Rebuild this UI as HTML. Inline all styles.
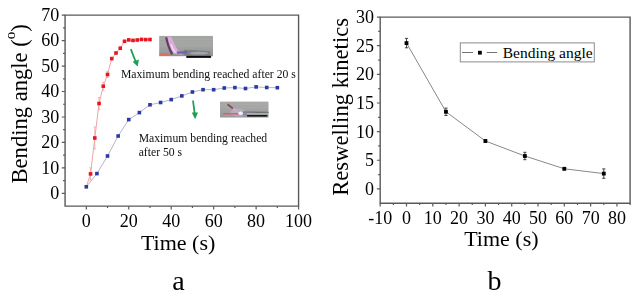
<!DOCTYPE html>
<html><head><meta charset="utf-8"><style>
html,body{margin:0;padding:0;background:#fff;}
body{width:639px;height:298px;overflow:hidden;}
svg{display:block;filter:blur(0.3px);}
text{font-family:"Liberation Serif",serif;fill:#000;}
.tl{font-size:18px;}
.at{font-size:22px;}
.pl{font-size:28px;}
.an{font-size:11.7px;fill:#111;}
.lg{font-size:15.5px;}
</style></head><body>
<svg width="639" height="298" viewBox="0 0 639 298">
<path d="M65.07 206.14V15.11H298.57V206.14Z" fill="none" stroke="#5a5a5a" stroke-width="1.4"/>
<path d="M65.07 193.40h-3.3 M65.07 167.93h-3.3 M65.07 142.46h-3.3 M65.07 116.99h-3.3 M65.07 91.52h-3.3 M65.07 66.05h-3.3 M65.07 40.58h-3.3 M65.07 15.11h-3.3 M65.07 180.66h-2 M65.07 155.19h-2 M65.07 129.72h-2 M65.07 104.25h-2 M65.07 78.78h-2 M65.07 53.31h-2 M65.07 27.84h-2 M86.30 206.14v3.4 M128.75 206.14v3.4 M171.21 206.14v3.4 M213.66 206.14v3.4 M256.12 206.14v3.4 M298.57 206.14v3.4 M107.53 206.14v1.8 M149.98 206.14v1.8 M192.44 206.14v1.8 M234.89 206.14v1.8 M277.34 206.14v1.8" stroke="#5a5a5a" stroke-width="1.2" fill="none"/>
<text x="59.2" y="199.30" class="tl" text-anchor="end">0</text>
<text x="59.2" y="173.83" class="tl" text-anchor="end">10</text>
<text x="59.2" y="148.36" class="tl" text-anchor="end">20</text>
<text x="59.2" y="122.89" class="tl" text-anchor="end">30</text>
<text x="59.2" y="97.42" class="tl" text-anchor="end">40</text>
<text x="59.2" y="71.95" class="tl" text-anchor="end">50</text>
<text x="59.2" y="46.48" class="tl" text-anchor="end">60</text>
<text x="59.2" y="21.01" class="tl" text-anchor="end">70</text>
<text x="86.30" y="226.9" class="tl" text-anchor="middle">0</text>
<text x="128.75" y="226.9" class="tl" text-anchor="middle">20</text>
<text x="171.21" y="226.9" class="tl" text-anchor="middle">40</text>
<text x="213.66" y="226.9" class="tl" text-anchor="middle">60</text>
<text x="256.12" y="226.9" class="tl" text-anchor="middle">80</text>
<text x="298.57" y="226.9" class="tl" text-anchor="middle">100</text>
<text x="178.1" y="249.6" class="at" text-anchor="middle">Time (s)</text>
<text x="178.5" y="290.3" class="pl" text-anchor="middle">a</text>
<text transform="translate(26.6 183.5) rotate(-90)" class="at" style="font-size:22.6px">Bending angle (<tspan style="font-size:15px" dy="-11.5">o</tspan><tspan dy="11.5">)</tspan></text>
<polyline points="86.30,186.80 90.55,173.90 94.79,138.00 99.04,103.50 103.28,86.20 107.53,74.50 111.77,58.60 116.02,53.00 120.26,48.20 124.51,41.30 128.75,39.90 133.00,40.40 137.24,40.00 141.49,39.40 145.74,39.60 149.98,39.50" fill="none" stroke="#eea4ac" stroke-width="1"/>
<polyline points="86.30,186.80 96.91,173.60 107.53,156.00 118.14,136.00 128.75,119.60 139.37,112.60 149.98,104.80 160.59,102.50 171.21,99.60 181.82,95.90 192.44,92.00 203.05,89.70 213.66,89.70 224.28,88.00 234.89,87.60 245.50,88.50 256.12,86.90 266.73,87.50 277.34,87.70" fill="none" stroke="#b2b3d0" stroke-width="1"/>
<path d="M90.55 167.90V179.90M89.35 167.90h2.4M89.35 179.90h2.4M94.79 127.00V149.00M93.59 127.00h2.4M93.59 149.00h2.4M99.04 97.50V109.50M97.84 97.50h2.4M97.84 109.50h2.4M103.28 82.20V90.20M102.08 82.20h2.4M102.08 90.20h2.4M107.53 71.50V77.50M106.33 71.50h2.4M106.33 77.50h2.4" stroke="#f4a0a6" stroke-width="0.8" fill="none"/>
<rect x="84.50" y="185.00" width="3.6" height="3.6" fill="#2b3a9c"/>
<rect x="95.11" y="171.80" width="3.6" height="3.6" fill="#2b3a9c"/>
<rect x="105.73" y="154.20" width="3.6" height="3.6" fill="#2b3a9c"/>
<rect x="116.34" y="134.20" width="3.6" height="3.6" fill="#2b3a9c"/>
<rect x="126.95" y="117.80" width="3.6" height="3.6" fill="#2b3a9c"/>
<rect x="137.57" y="110.80" width="3.6" height="3.6" fill="#2b3a9c"/>
<rect x="148.18" y="103.00" width="3.6" height="3.6" fill="#2b3a9c"/>
<rect x="158.79" y="100.70" width="3.6" height="3.6" fill="#2b3a9c"/>
<rect x="169.41" y="97.80" width="3.6" height="3.6" fill="#2b3a9c"/>
<rect x="180.02" y="94.10" width="3.6" height="3.6" fill="#2b3a9c"/>
<rect x="190.63" y="90.20" width="3.6" height="3.6" fill="#2b3a9c"/>
<rect x="201.25" y="87.90" width="3.6" height="3.6" fill="#2b3a9c"/>
<rect x="211.86" y="87.90" width="3.6" height="3.6" fill="#2b3a9c"/>
<rect x="222.48" y="86.20" width="3.6" height="3.6" fill="#2b3a9c"/>
<rect x="233.09" y="85.80" width="3.6" height="3.6" fill="#2b3a9c"/>
<rect x="243.70" y="86.70" width="3.6" height="3.6" fill="#2b3a9c"/>
<rect x="254.32" y="85.10" width="3.6" height="3.6" fill="#2b3a9c"/>
<rect x="264.93" y="85.70" width="3.6" height="3.6" fill="#2b3a9c"/>
<rect x="275.54" y="85.90" width="3.6" height="3.6" fill="#2b3a9c"/>
<rect x="88.75" y="172.10" width="3.6" height="3.6" fill="#e8141f"/>
<rect x="92.99" y="136.20" width="3.6" height="3.6" fill="#e8141f"/>
<rect x="97.24" y="101.70" width="3.6" height="3.6" fill="#e8141f"/>
<rect x="101.48" y="84.40" width="3.6" height="3.6" fill="#e8141f"/>
<rect x="105.73" y="72.70" width="3.6" height="3.6" fill="#e8141f"/>
<rect x="109.97" y="56.80" width="3.6" height="3.6" fill="#e8141f"/>
<rect x="114.22" y="51.20" width="3.6" height="3.6" fill="#e8141f"/>
<rect x="118.46" y="46.40" width="3.6" height="3.6" fill="#e8141f"/>
<rect x="122.71" y="39.50" width="3.6" height="3.6" fill="#e8141f"/>
<rect x="126.95" y="38.10" width="3.6" height="3.6" fill="#e8141f"/>
<rect x="131.20" y="38.60" width="3.6" height="3.6" fill="#e8141f"/>
<rect x="135.44" y="38.20" width="3.6" height="3.6" fill="#e8141f"/>
<rect x="139.69" y="37.60" width="3.6" height="3.6" fill="#e8141f"/>
<rect x="143.94" y="37.80" width="3.6" height="3.6" fill="#e8141f"/>
<rect x="148.18" y="37.70" width="3.6" height="3.6" fill="#e8141f"/>
<text x="120.9" y="78.0" class="an">Maximum bending reached after 20 s</text>
<text x="138.7" y="141.9" class="an">Maximum bending reached</text>
<text x="138.7" y="156.0" class="an">after 50 s</text>
<path d="M130.8 49.2L135.6 61.5" stroke="#1e9e55" stroke-width="1.8"/><path d="M132.6 61.8L138.9 59.6L137.7 66.6Z" fill="#1e9e55"/>
<path d="M193.0 100.5L194.6 113.0" stroke="#1e9e55" stroke-width="1.8"/><path d="M191.8 112.4L198.0 112.4L195.1 119.2Z" fill="#1e9e55"/>
<defs>
<filter id="bl" x="-10%" y="-30%" width="120%" height="160%"><feGaussianBlur stdDeviation="0.55"/></filter>
<filter id="bl2" x="-20%" y="-50%" width="140%" height="200%"><feGaussianBlur stdDeviation="0.8"/></filter>
<linearGradient id="g1" x1="0" y1="0" x2="0" y2="1">
<stop offset="0" stop-color="#a4a6a3"/><stop offset="0.5" stop-color="#a2a4a1"/><stop offset="0.68" stop-color="#9c9e9e"/><stop offset="1" stop-color="#8f9196"/></linearGradient>
<linearGradient id="g2" x1="0" y1="0" x2="0" y2="1">
<stop offset="0" stop-color="#a9aaa8"/><stop offset="0.6" stop-color="#a0a1a0"/><stop offset="1" stop-color="#96979a"/></linearGradient>
</defs>
<g filter="url(#bl)">
<rect x="159.2" y="35.9" width="53.8" height="20.3" fill="url(#g1)"/>
<path d="M159.2 39.5H213M159.2 42.8H213M159.2 45.8H213" stroke="#b0b2af" stroke-width="0.7" opacity="0.6"/>
<path d="M184 49.8C192 50.2 200 50.6 210 51.0L210 55.4L184 55.4Z" fill="#7e8189"/>
<ellipse cx="199" cy="53.2" rx="9.5" ry="1.4" fill="#a3a5a8"/>
<path d="M159.2 50.2H167V52H159.2Z" fill="#8fb0a8" opacity="0.35"/>
<path d="M159.6 53.7H169V55.6H159.6Z" fill="#d4735a"/>
<path d="M167.2 36.8C168.5 43 170.5 48.5 173.5 53.8L182 54.6L182 51.2L178.2 50.6C175.5 47 173.5 42 171.2 36.6Z" fill="#d9acd9"/>
<path d="M166.2 37.4C167.4 43.5 169.4 49.5 172.2 54.4" stroke="#6a3868" stroke-width="2.2" fill="none"/>
<path d="M171 44C172 48 173.5 50.5 175.5 52.5" stroke="#f1dcf1" stroke-width="1.5" fill="none"/>
<path d="M177 52.6C180 52.4 183 52.2 187 52.2" stroke="#7a5bb2" stroke-width="2.4" fill="none"/>
<rect x="186.3" y="55.8" width="24.8" height="2.1" fill="#111"/>
</g>
<g filter="url(#bl)">
<rect x="220" y="101.6" width="48.5" height="15.9" fill="url(#g2)"/>
<path d="M220 104.5H268.5M220 107.5H268.5" stroke="#b0b1b0" stroke-width="0.7" opacity="0.5"/>
<ellipse cx="238" cy="112.5" rx="8" ry="4" fill="#c5b8d4" opacity="0.55"/>
<path d="M242.8 112.1C250 112.0 258 112.0 268.5 112.4" stroke="#6e7478" stroke-width="1.1"/>
<path d="M244 113.6H268.5" stroke="#b4b6b4" stroke-width="1.2" opacity="0.7"/>
<path d="M227.6 104.2L233 108.6" stroke="#8c4452" stroke-width="1.8"/>
<path d="M233 108.6L238.6 112.8" stroke="#d8a8c8" stroke-width="1.6"/>
<path d="M223.3 113.8H238.6" stroke="#e05a72" stroke-width="1.4"/>
<path d="M223.3 115.4H237" stroke="#8fb8b0" stroke-width="0.8" opacity="0.7"/>
<ellipse cx="240.6" cy="113.2" rx="2.2" ry="1.8" fill="#f6eefa"/>
<path d="M243 114.2H247" stroke="#8670a8" stroke-width="2" opacity="0.7"/>
<rect x="247.1" y="115.0" width="20.2" height="1.6" fill="#141414"/>
</g>
<path d="M380.19 203.22V17.09H630.09V203.22Z" fill="none" stroke="#5a5a5a" stroke-width="1.4"/>
<path d="M380.19 188.90h-3.3 M380.19 160.27h-3.3 M380.19 131.63h-3.3 M380.19 103.00h-3.3 M380.19 74.36h-3.3 M380.19 45.72h-3.3 M380.19 17.09h-3.3 M380.19 174.58h-2 M380.19 145.95h-2 M380.19 117.31h-2 M380.19 88.68h-2 M380.19 60.04h-2 M380.19 31.41h-2 M380.19 203.22v3.2 M406.50 203.22v3.2 M432.81 203.22v3.2 M459.11 203.22v3.2 M485.42 203.22v3.2 M511.72 203.22v3.2 M538.02 203.22v3.2 M564.33 203.22v3.2 M590.63 203.22v3.2 M616.94 203.22v3.2 M393.35 203.22v1.8 M419.65 203.22v1.8 M445.96 203.22v1.8 M472.26 203.22v1.8 M498.57 203.22v1.8 M524.87 203.22v1.8 M551.18 203.22v1.8 M577.48 203.22v1.8 M603.79 203.22v1.8 M630.09 203.22v1.8" stroke="#5a5a5a" stroke-width="1.2" fill="none"/>
<text x="374.1" y="194.80" class="tl" text-anchor="end">0</text>
<text x="374.1" y="166.17" class="tl" text-anchor="end">5</text>
<text x="374.1" y="137.53" class="tl" text-anchor="end">10</text>
<text x="374.1" y="108.90" class="tl" text-anchor="end">15</text>
<text x="374.1" y="80.26" class="tl" text-anchor="end">20</text>
<text x="374.1" y="51.62" class="tl" text-anchor="end">25</text>
<text x="374.1" y="22.99" class="tl" text-anchor="end">30</text>
<text x="380.19" y="223.6" class="tl" text-anchor="middle">-10</text>
<text x="406.50" y="223.6" class="tl" text-anchor="middle">0</text>
<text x="432.81" y="223.6" class="tl" text-anchor="middle">10</text>
<text x="459.11" y="223.6" class="tl" text-anchor="middle">20</text>
<text x="485.42" y="223.6" class="tl" text-anchor="middle">30</text>
<text x="511.72" y="223.6" class="tl" text-anchor="middle">40</text>
<text x="538.02" y="223.6" class="tl" text-anchor="middle">50</text>
<text x="564.33" y="223.6" class="tl" text-anchor="middle">60</text>
<text x="590.63" y="223.6" class="tl" text-anchor="middle">70</text>
<text x="616.94" y="223.6" class="tl" text-anchor="middle">80</text>
<text x="501.4" y="245.7" class="at" text-anchor="middle">Time (s)</text>
<text x="494.4" y="290.3" class="pl" text-anchor="middle">b</text>
<text transform="translate(347.6 195.8) rotate(-90)" class="at" style="font-size:22.63px">Reswelling kinetics</text>
<polyline points="406.50,43.10 445.96,111.80 485.42,141.00 524.87,156.00 564.33,168.80 603.79,173.60" fill="none" stroke="#888" stroke-width="1"/>
<path d="M406.50 38.40V47.80M404.90 38.40h3.2M404.90 47.80h3.2M445.96 108.10V115.50M444.36 108.10h3.2M444.36 115.50h3.2M485.42 139.80V142.20M483.81 139.80h3.2M483.81 142.20h3.2M524.87 152.30V159.70M523.27 152.30h3.2M523.27 159.70h3.2M564.33 167.80V169.80M562.73 167.80h3.2M562.73 169.80h3.2M603.79 168.90V178.30M602.19 168.90h3.2M602.19 178.30h3.2" stroke="#333" stroke-width="0.9" fill="none"/>
<rect x="404.60" y="41.20" width="3.8" height="3.8" fill="#000"/>
<rect x="444.06" y="109.90" width="3.8" height="3.8" fill="#000"/>
<rect x="483.52" y="139.10" width="3.8" height="3.8" fill="#000"/>
<rect x="522.97" y="154.10" width="3.8" height="3.8" fill="#000"/>
<rect x="562.43" y="166.90" width="3.8" height="3.8" fill="#000"/>
<rect x="601.89" y="171.70" width="3.8" height="3.8" fill="#000"/>
<rect x="460.3" y="42.9" width="134" height="19" fill="#fff" stroke="#8c8c8c" stroke-width="1"/>
<path d="M462.1 52.5H473.1M486.8 52.5H497.2" stroke="#707070" stroke-width="1"/>
<rect x="478" y="50.8" width="3.8" height="3.8" fill="#000"/>
<text x="502.7" y="57.5" class="lg">Bending angle</text>
</svg>
</body></html>
